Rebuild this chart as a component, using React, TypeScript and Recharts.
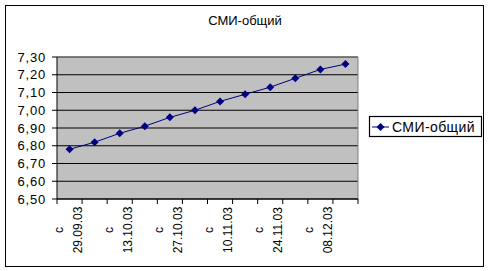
import React from 'react';
import {
  ComposedChart,
  Line,
  XAxis,
  YAxis,
  CartesianGrid,
  ReferenceLine,
} from 'recharts';

const seriesName = 'СМИ-общий';
const weekPrefix = 'с';
const weeks = [
  '29.09.03', '06.10.03', '13.10.03', '20.10.03', '27.10.03', '03.11.03',
  '10.11.03', '17.11.03', '24.11.03', '01.12.03', '08.12.03', '15.12.03',
];
const values = [6.78, 6.82, 6.87, 6.91, 6.96, 7.0, 7.05, 7.09, 7.13, 7.18, 7.23, 7.26];
const yTicks = [6.5, 6.6, 6.7, 6.8, 6.9, 7.0, 7.1, 7.2, 7.3];

const data = weeks.map((week, i) => ({ week, value: values[i] }));

const FONT = '"Liberation Sans", Arial, sans-serif';
const NAVY = '#000080';

function formatComma(v: number): string {
  return v.toFixed(2).replace('.', ',');
}

function Diamond({ cx, cy }: { cx?: number; cy?: number }) {
  if (cx == null || cy == null) return null;
  return (
    <path
      d={`M${cx},${cy - 4}L${cx + 4},${cy}L${cx},${cy + 4}L${cx - 4},${cy}Z`}
      fill={NAVY}
      stroke="none"
    />
  );
}

// tick marks sit on the band edges, labels on every other band centre
function WeekTick(props: any) {
  const { x, y, payload, index } = props;
  if (x == null || y == null || !payload) return null;
  const half = payload.offset ?? 0;
  const last = index === weeks.length - 1;
  return (
    <g>
      <line x1={x - half} y1={y} x2={x - half} y2={y + 5} stroke="#000" />
      {last && <line x1={x + half} y1={y} x2={x + half} y2={y + 5} stroke="#000" />}
      {index % 2 === 0 && (
        <g transform={`translate(${x},${y + 31})`}>
          <text transform="rotate(-90)" x={0} y={-7} textAnchor="middle" fontSize={12} fontFamily={FONT} fill="#000">
            {weekPrefix}
          </text>
          <text transform="rotate(-90)" x={0} y={12} textAnchor="middle" fontSize={12} fontFamily={FONT} fill="#000">
            {payload.value}
          </text>
        </g>
      )}
    </g>
  );
}

function LegendBox() {
  return (
    <svg
      width={116}
      height={24}
      style={{ position: 'absolute', left: 367, top: 115 }}
    >
      <rect x={2.5} y={1.5} width={112} height={20} fill="#fff" stroke="#000" strokeWidth={1.2} />
      <line x1={5} y1={12} x2={22} y2={12} stroke={NAVY} strokeWidth={1} />
      <path d="M13.5,8L17.5,12L13.5,16L9.5,12Z" fill={NAVY} />
      <text x={25} y={17} fontSize={14} fontFamily={FONT} fill="#000" letterSpacing={0.4}>
        {seriesName}
      </text>
    </svg>
  );
}

export default function App() {
  return (
    <div style={{ position: 'fixed', left: 0, top: 0, width: 490, height: 271, background: '#fff' }}>
      <div
        style={{
          position: 'absolute',
          left: 5,
          top: 5,
          width: 479,
          height: 262,
          boxSizing: 'border-box',
          border: '1px solid #000',
        }}
      />
      <div
        style={{
          position: 'absolute',
          left: 0,
          width: 490,
          top: 14,
          textAlign: 'center',
          fontFamily: FONT,
          fontSize: 13,
          lineHeight: '14px',
        }}
      >
        {seriesName}
      </div>
      <ComposedChart
        width={490}
        height={271}
        data={data}
        margin={{ top: 57, right: 132, bottom: 12, left: 7 }}
        style={{ position: 'absolute', left: 0, top: 0 }}
      >
        <CartesianGrid
          xAxisId="cat"
          yAxisId="left"
          vertical={false}
          stroke="#000"
          fill="#c0c0c0"
          fillOpacity={1}
        />
        <XAxis
          xAxisId="cat"
          dataKey="week"
          scale="band"
          interval={0}
          height={60}
          axisLine={{ stroke: '#000' }}
          tickLine={false}
          tickSize={0}
          tickMargin={0}
          tick={<WeekTick />}
        />
        <YAxis
          yAxisId="left"
          width={50}
          domain={[6.5, 7.3]}
          ticks={yTicks}
          interval={0}
          tickFormatter={formatComma}
          axisLine={{ stroke: '#000' }}
          tickLine={{ stroke: '#000' }}
          tickSize={5}
          tickMargin={6}
          tick={{ fill: '#000', fontSize: 13, fontFamily: FONT, letterSpacing: 0.8 }}
        />
        <ReferenceLine xAxisId="cat" yAxisId="left" y={yTicks[yTicks.length - 1]} stroke="#808080" />
        <ReferenceLine
          xAxisId="cat"
          yAxisId="left"
          x={weeks[weeks.length - 1]}
          position="end"
          stroke="#808080"
        />
        <Line
          xAxisId="cat"
          yAxisId="left"
          dataKey="value"
          name={seriesName}
          stroke={NAVY}
          strokeWidth={1}
          dot={<Diamond />}
          activeDot={false}
          isAnimationActive={false}
        />
      </ComposedChart>
      <LegendBox />
    </div>
  );
}
